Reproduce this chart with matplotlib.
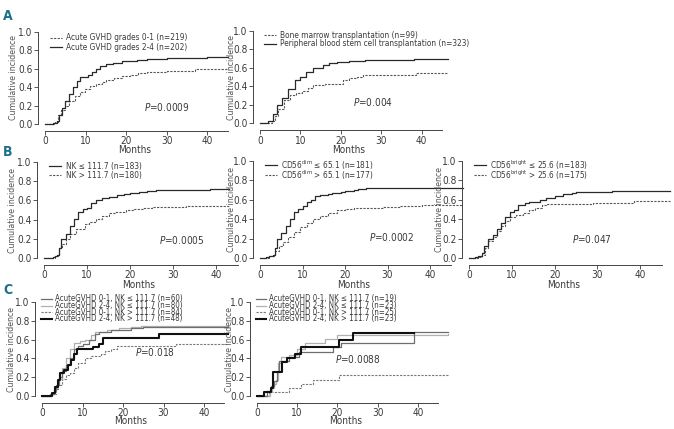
import matplotlib
matplotlib.use('Agg')
import matplotlib.pyplot as plt
from matplotlib import font_manager
from matplotlib.lines import Line2D

W, H = 674, 429

# prefer a narrow font, the reference uses a condensed sans
fl = font_manager.fontManager.ttflist
if any(f.name == 'Liberation Sans Narrow' for f in fl):
    base = 'Liberation Sans Narrow'
    plt.rcParams['font.family'] = [base, 'DejaVu Sans']
    plt.rcParams['mathtext.rm'] = base
    plt.rcParams['mathtext.it'] = base + ':italic'
    SCALE = 1.0
elif any(f.name == 'DejaVu Sans' and str(f.stretch) == 'condensed' for f in fl):
    plt.rcParams['font.family'] = ['DejaVu Sans']
    plt.rcParams['font.stretch'] = 'condensed'
    plt.rcParams['mathtext.rm'] = 'DejaVu Sans'
    plt.rcParams['mathtext.it'] = 'DejaVu Sans:italic'
    SCALE = 0.9
else:
    plt.rcParams['font.family'] = ['Liberation Sans', 'DejaVu Sans']
    plt.rcParams['mathtext.rm'] = 'Liberation Sans'
    plt.rcParams['mathtext.it'] = 'Liberation Sans:italic'
    SCALE = 0.85
plt.rcParams['mathtext.fontset'] = 'custom'

# --- data: (months, cumulative incidence) step points ---
a1_low_x = [0, 2.5, 3.3, 4, 4.9, 6, 7.4, 8.5, 9.8, 11, 12.5, 14, 15, 17, 19, 21, 23, 25, 30, 37, 45]
a1_low_y = [0, 0.02, 0.1, 0.15, 0.2, 0.25, 0.3, 0.35, 0.38, 0.41, 0.43, 0.46, 0.48, 0.5, 0.52, 0.53, 0.55, 0.57, 0.58, 0.6, 0.6]
a1_high_x = [0, 2, 3, 3.5, 4.2, 5, 6, 7, 8, 8.6, 10.7, 11.5, 12.6, 13.5, 15, 16.8, 19, 22.6, 25, 30, 40, 45]
a1_high_y = [0, 0.01, 0.03, 0.1, 0.17, 0.25, 0.33, 0.4, 0.47, 0.51, 0.53, 0.57, 0.6, 0.63, 0.65, 0.66, 0.68, 0.7, 0.71, 0.72, 0.73, 0.73]

a2_bm_x = [0, 3, 3.6, 4.5, 6, 7.5, 9, 10.5, 12, 13.2, 16, 20.5, 22, 24, 25.5, 38.5, 46.5]
a2_bm_y = [0, 0.02, 0.08, 0.15, 0.25, 0.3, 0.33, 0.35, 0.38, 0.41, 0.42, 0.47, 0.49, 0.5, 0.52, 0.54, 0.54]
a2_pb_x = [0, 2, 3.3, 4.1, 5.4, 7, 8.7, 10, 11.5, 13.2, 15.5, 17, 19, 22, 26, 30, 38, 46.5]
a2_pb_y = [0, 0.02, 0.1, 0.2, 0.27, 0.37, 0.47, 0.5, 0.55, 0.6, 0.63, 0.65, 0.66, 0.67, 0.68, 0.69, 0.7, 0.7]

b1_lo_x = [0, 2, 2.5, 3, 3.5, 4, 5, 6, 7, 8, 9, 10, 11, 12, 13.5, 15, 17, 18.5, 20, 22, 24, 26, 38.5, 43]
b1_lo_y = [0, 0.01, 0.02, 0.03, 0.1, 0.2, 0.25, 0.33, 0.41, 0.48, 0.51, 0.52, 0.57, 0.6, 0.63, 0.64, 0.66, 0.67, 0.68, 0.69, 0.7, 0.71, 0.72, 0.72]
b1_hi_x = [0, 2.5, 3.5, 4.2, 5, 6, 7.5, 9.5, 10.5, 12, 13.5, 15, 16.5, 19, 21, 23, 25, 33, 43]
b1_hi_y = [0, 0.02, 0.1, 0.15, 0.2, 0.25, 0.3, 0.35, 0.38, 0.41, 0.44, 0.47, 0.48, 0.5, 0.51, 0.52, 0.53, 0.54, 0.54]

b2_lo_x = [0, 1.5, 2, 3, 3.5, 4, 5, 6, 7, 8, 9, 10, 11, 12, 13, 14, 16, 17, 19, 20, 22, 23, 25, 47.8]
b2_lo_y = [0, 0.01, 0.02, 0.03, 0.1, 0.2, 0.26, 0.33, 0.4, 0.47, 0.51, 0.54, 0.58, 0.6, 0.64, 0.65, 0.66, 0.67, 0.68, 0.69, 0.7, 0.71, 0.72, 0.72]
b2_hi_x = [0, 2, 3.5, 4.5, 5.5, 6.5, 8, 9.5, 11, 12.5, 14, 16, 18, 20, 22, 29, 33, 38, 42, 47.8]
b2_hi_y = [0, 0.02, 0.07, 0.12, 0.17, 0.22, 0.27, 0.32, 0.36, 0.4, 0.43, 0.46, 0.49, 0.51, 0.52, 0.53, 0.54, 0.545, 0.55, 0.55]

b3_lo_x = [0, 1.5, 2, 3, 3.5, 4.5, 5.5, 6.5, 7.5, 8.5, 9.5, 10.5, 11.5, 13, 14, 16.5, 18, 20, 22, 24, 25, 33.5, 47]
b3_lo_y = [0, 0.01, 0.02, 0.05, 0.12, 0.2, 0.24, 0.3, 0.36, 0.42, 0.47, 0.5, 0.55, 0.57, 0.58, 0.6, 0.62, 0.64, 0.66, 0.67, 0.68, 0.69, 0.69]
b3_hi_x = [0, 2, 3, 3.8, 4.5, 5.5, 6.5, 7.5, 8.5, 9.5, 11, 12.5, 14, 15.5, 17, 18, 29, 38.5, 47]
b3_hi_y = [0, 0.01, 0.03, 0.1, 0.18, 0.22, 0.28, 0.33, 0.38, 0.42, 0.44, 0.46, 0.49, 0.52, 0.55, 0.56, 0.57, 0.59, 0.59]

c1_a_x = [0, 2, 3, 3.5, 4.3, 5, 6, 7, 7.8, 9, 10, 11.5, 13, 14, 17, 22, 25, 46]
c1_a_y = [0, 0.02, 0.06, 0.12, 0.2, 0.27, 0.33, 0.4, 0.5, 0.53, 0.55, 0.6, 0.66, 0.68, 0.7, 0.72, 0.73, 0.73]
c1_b_x = [0, 2.5, 3.3, 4, 5, 6, 7, 8, 9.5, 10.5, 12, 13, 16, 19, 22, 24.5, 46]
c1_b_y = [0, 0.02, 0.08, 0.18, 0.3, 0.4, 0.5, 0.56, 0.58, 0.6, 0.65, 0.68, 0.7, 0.72, 0.73, 0.75, 0.75]
c1_c_x = [0, 2.5, 3.5, 4, 5, 6, 7, 8, 9, 10.5, 12, 14.5, 15.5, 17, 18.5, 33, 46]
c1_c_y = [0, 0.02, 0.07, 0.12, 0.18, 0.22, 0.25, 0.3, 0.35, 0.4, 0.43, 0.45, 0.48, 0.5, 0.53, 0.55, 0.55]
c1_d_x = [0, 2.5, 3.3, 4, 4.5, 5.5, 6.5, 7.2, 8, 8.7, 11, 12.5, 14, 15, 29, 46]
c1_d_y = [0, 0.03, 0.1, 0.17, 0.24, 0.28, 0.33, 0.38, 0.45, 0.5, 0.5, 0.52, 0.55, 0.62, 0.66, 0.66]

c2_a_x = [0, 2.5, 3.5, 4.2, 5, 5.5, 8, 10.5, 19, 21, 39, 47.5]
c2_a_y = [0, 0.05, 0.11, 0.16, 0.26, 0.37, 0.42, 0.47, 0.52, 0.56, 0.68, 0.68]
c2_b_x = [0, 3.2, 3.8, 4.3, 4.8, 5.2, 6, 8, 10, 12, 17, 20, 47.5]
c2_b_y = [0, 0.04, 0.09, 0.13, 0.17, 0.35, 0.41, 0.44, 0.5, 0.56, 0.61, 0.65, 0.66]
c2_c_x = [0, 3, 8, 10.5, 11, 14, 20.5, 47.5]
c2_c_y = [0, 0.04, 0.08, 0.09, 0.13, 0.17, 0.22, 0.22]
c2_d_x = [0, 1.7, 3.6, 4, 6.2, 7.5, 9.5, 11, 20.5, 24, 39]
c2_d_y = [0, 0.04, 0.09, 0.26, 0.36, 0.4, 0.45, 0.52, 0.6, 0.67, 0.67]

p_values = ['0.0009', '0.004', '0.0005', '0.0002', '0.047', '0.018', '0.0088']

TXT = '#3a3a3a'
SOLID = dict(color='#2a2a2a', lw=0.9, ls='-')
DASH = dict(color='#555555', lw=0.8, ls=(0, (2, 1.2)))
C_A = dict(color='#6e6e6e', lw=0.9, ls='-')
C_B = dict(color='#b0b0b0', lw=0.9, ls='-')
C_C = dict(color='#777777', lw=0.8, ls=(0, (2, 1.2)))
C_D = dict(color='#111111', lw=1.5, ls='-')

FS_TICK = 8 * SCALE
FS_LAB = 7 * SCALE
FS_LEG = 6.6 * SCALE
FS_P = 8 * SCALE

fig = plt.figure(figsize=(W / 100, H / 100), dpi=100)


def make_ax(x0, ppm, y0, y1, ylab_px, months_py):
    ax = fig.add_axes([x0 / W, 1 - y0 / H, 45 * ppm / W, (y0 - y1) / H])
    ax.set_xlim(0, 45)
    ax.set_ylim(0, 1)
    for s in ['top', 'right']:
        ax.spines[s].set_visible(False)
    for s in ['left', 'bottom']:
        ax.spines[s].set_position(('outward', 5))
        ax.spines[s].set_linewidth(0.7)
        ax.spines[s].set_color('#444444')
    ax.set_xticks([0, 10, 20, 30, 40])
    ax.set_yticks([0, 0.2, 0.4, 0.6, 0.8, 1.0])
    ax.set_yticklabels(['0.0', '0.2', '0.4', '0.6', '0.8', '1.0'])
    ax.tick_params(labelsize=FS_TICK, colors=TXT, length=3, width=0.6, pad=1)
    ax.patch.set_visible(False)
    fig.text(ylab_px / W, 1 - (y0 + y1) / 2 / H, 'Cumulative incidence', rotation=90,
             ha='center', va='center', fontsize=FS_LAB, color='#555555')
    fig.text((x0 + 22 * ppm) / W, 1 - months_py / H, 'Months', ha='center', va='center',
             fontsize=FS_TICK, color=TXT)
    return ax


def legend(line_x0, line_x1, text_x, rows, fs=FS_LEG):
    for label, style, py in rows:
        fig.add_artist(Line2D([line_x0 / W, line_x1 / W], [1 - py / H] * 2,
                              transform=fig.transFigure, **style))
        fig.text(text_x / W, 1 - py / H, label, ha='left', va='center', fontsize=fs, color=TXT)


def curve(ax, x, y, style):
    ax.plot(x, y, drawstyle='steps-post', clip_on=False, **style)


def pval(ax, x, y, p):
    ax.text(x, y, '$P$=' + p, ha='center', va='center', fontsize=FS_P, color=TXT)


# A1
ax = make_ax(45, 4.06, 124, 32, 14, 150)
curve(ax, a1_low_x, a1_low_y, DASH)
curve(ax, a1_high_x, a1_high_y, SOLID)
pval(ax, 30, 0.18, p_values[0])
legend(50, 62, 66, [('Acute GVHD grades 0-1 (n=219)', DASH, 38),
                    ('Acute GVHD grades 2-4 (n=202)', SOLID, 47)])

# A2
ax = make_ax(260, 4.04, 123, 31, 232, 150)
curve(ax, a2_bm_x, a2_bm_y, DASH)
curve(ax, a2_pb_x, a2_pb_y, SOLID)
pval(ax, 28, 0.23, p_values[1])
legend(264, 276, 280, [('Bone marrow transplantation (n=99)', DASH, 35),
                       ('Peripheral blood stem cell transplantation (n=323)', SOLID, 44)])

# B1
ax = make_ax(44, 4.3, 258, 162, 13, 285)
curve(ax, b1_hi_x, b1_hi_y, DASH)
curve(ax, b1_lo_x, b1_lo_y, SOLID)
pval(ax, 32, 0.19, p_values[2])
legend(49, 61, 66, [('NK ≤ 111.7 (n=183)', SOLID, 166),
                    ('NK > 111.7 (n=180)', DASH, 175)])

# B2
ax = make_ax(260, 4.25, 258, 161, 232, 285)
curve(ax, b2_hi_x, b2_hi_y, DASH)
curve(ax, b2_lo_x, b2_lo_y, SOLID)
pval(ax, 31, 0.22, p_values[3])
legend(265, 277, 281, [(r'CD56$^{\mathrm{dim}}$ ≤ 65.1 (n=181)', SOLID, 165),
                       (r'CD56$^{\mathrm{dim}}$ > 65.1 (n=177)', DASH, 175)])

# B3
ax = make_ax(469, 4.28, 258, 161, 440, 285)
curve(ax, b3_hi_x, b3_hi_y, DASH)
curve(ax, b3_lo_x, b3_lo_y, SOLID)
pval(ax, 28.7, 0.2, p_values[4])
legend(474, 486, 490, [(r'CD56$^{\mathrm{bright}}$ ≤ 25.6 (n=183)', SOLID, 165),
                       (r'CD56$^{\mathrm{bright}}$ > 25.6 (n=175)', DASH, 175)])

# C1 (the reference packs these legend rows so they touch)
ax = make_ax(42, 4.05, 396, 302, 11, 421)
curve(ax, c1_c_x, c1_c_y, C_C)
curve(ax, c1_b_x, c1_b_y, C_B)
curve(ax, c1_a_x, c1_a_y, C_A)
curve(ax, c1_d_x, c1_d_y, C_D)
pval(ax, 28, 0.47, p_values[5])
legend(41, 52, 55, [('AcuteGVHD 0-1, NK ≤ 111.7 (n=60)', C_A, 299),
                    ('AcuteGVHD 2-4, NK ≤ 111.7 (n=80)', C_B, 305.5),
                    ('AcuteGVHD 0-1, NK > 111.7 (n=84)', C_C, 312),
                    ('AcuteGVHD 2-4, NK > 111.7 (n=48)', C_D, 318.5)], fs=FS_LEG * 0.95)

# C2
ax = make_ax(257, 4.02, 396, 302, 229, 421)
curve(ax, c2_c_x, c2_c_y, C_C)
curve(ax, c2_b_x, c2_b_y, C_B)
curve(ax, c2_a_x, c2_a_y, C_A)
curve(ax, c2_d_x, c2_d_y, C_D)
pval(ax, 25, 0.39, p_values[6])
legend(256, 266, 269, [('AcuteGVHD 0-1, NK ≤ 111.7 (n=19)', C_A, 299),
                       ('AcuteGVHD 2-4, NK ≤ 111.7 (n=23)', C_B, 305.5),
                       ('AcuteGVHD 0-1, NK > 111.7 (n=25)', C_C, 312),
                       ('AcuteGVHD 2-4, NK > 111.7 (n=23)', C_D, 318.5)], fs=FS_LEG * 0.95)

for letter, py in [('A', 16), ('B', 152), ('C', 290)]:
    fig.text(8 / W, 1 - py / H, letter, ha='center', va='center', fontsize=10,
             fontweight='bold', color='#1f6e8c')

fig.savefig('out.png', dpi=100)
